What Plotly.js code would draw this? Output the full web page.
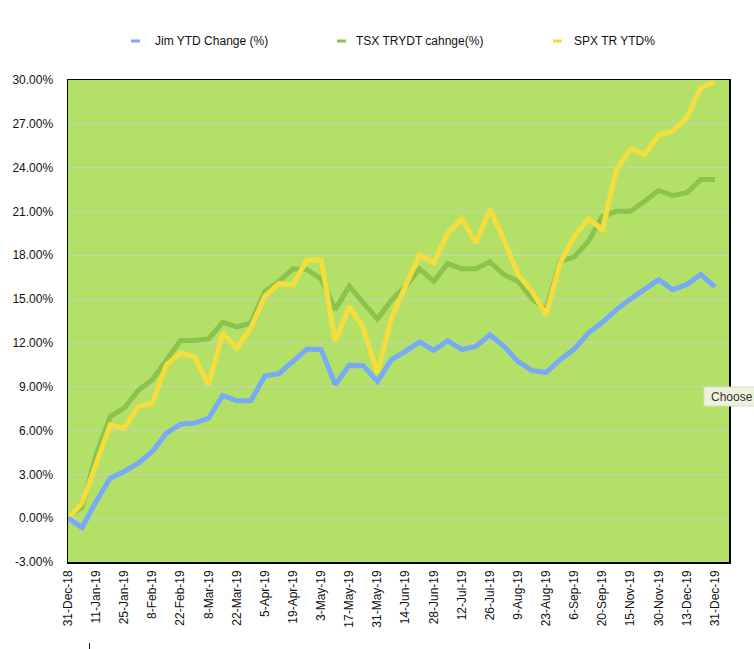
<!DOCTYPE html>
<html>
<head>
<meta charset="utf-8">
<script src="https://cdn.plot.ly/plotly-3.0.1.min.js"></script>
<style>
html,body{margin:0;padding:0;background:#fff;}
#chart{width:754px;height:649px;}
</style>
</head>
<body>
<div id="chart"></div>
<script>
// Categories (weekly-ish observation dates); every other one is labelled
const dates = [
  "31-Dec-18","4-Jan-19","11-Jan-19","18-Jan-19","25-Jan-19","1-Feb-19","8-Feb-19","15-Feb-19",
  "22-Feb-19","1-Mar-19","8-Mar-19","15-Mar-19","22-Mar-19","29-Mar-19","5-Apr-19","12-Apr-19",
  "19-Apr-19","26-Apr-19","3-May-19","10-May-19","17-May-19","24-May-19","31-May-19","7-Jun-19",
  "14-Jun-19","21-Jun-19","28-Jun-19","5-Jul-19","12-Jul-19","19-Jul-19","26-Jul-19","2-Aug-19",
  "9-Aug-19","16-Aug-19","23-Aug-19","30-Aug-19","6-Sep-19","13-Sep-19","20-Sep-19","1-Nov-19",
  "15-Nov-19","22-Nov-19","30-Nov-19","6-Dec-19","13-Dec-19","20-Dec-19","31-Dec-19"
];
const tickLabels = [
  "31-Dec-18","11-Jan-19","25-Jan-19","8-Feb-19","22-Feb-19","8-Mar-19","22-Mar-19","5-Apr-19",
  "19-Apr-19","3-May-19","17-May-19","31-May-19","14-Jun-19","28-Jun-19","12-Jul-19","26-Jul-19",
  "9-Aug-19","23-Aug-19","6-Sep-19","20-Sep-19","15-Nov-19","30-Nov-19","13-Dec-19","31-Dec-19"
];
const jimYTD = [
  0, -0.64, 1.14, 2.74, 3.2, 3.77, 4.57, 5.83, 6.44, 6.51, 6.85, 8.4, 8.04, 8.04, 9.75, 9.89,
  10.73, 11.58, 11.54, 9.14, 10.46, 10.44, 9.36, 10.85, 11.42, 12.06, 11.49, 12.15, 11.54, 11.76, 12.56, 11.76,
  10.73, 10.1, 9.98, 10.85, 11.58, 12.68, 13.41, 14.28, 15.0, 15.7, 16.33, 15.65, 15.99, 16.68, 15.83
];
const tsxYTD = [
  0.1, 0.75, 4.34, 6.96, 7.54, 8.75, 9.48, 10.85, 12.17, 12.17, 12.27, 13.41, 13.09, 13.36, 15.53, 16.22,
  17.07, 17.02, 16.38, 14.28, 15.88, 14.74, 13.64, 14.92, 15.88, 17.07, 16.22, 17.43, 17.07, 17.07, 17.55, 16.68,
  16.22, 15.01, 14.28, 17.59, 17.89, 18.96, 20.67, 21.01, 21.01, 21.7, 22.43, 22.09, 22.28, 23.19, 23.19
];
const spxYTD = [
  0, 1.03, 3.7, 6.39, 6.17, 7.65, 7.88, 10.51, 11.31, 11.03, 9.14, 12.68, 11.65, 13.02, 15.19, 16.06,
  15.99, 17.7, 17.7, 12.1, 14.5, 13.02, 9.94, 13.71, 15.9, 18.05, 17.48, 19.53, 20.49, 18.85, 21.13, 19.07,
  16.68, 15.53, 13.93, 17.48, 19.3, 20.49, 19.76, 23.87, 25.29, 24.9, 26.2, 26.5, 27.41, 29.47, 29.86
];
const seriesNames = ["Jim YTD Change (%)", "TSX TRYDT cahnge(%)", "SPX TR YTD%"];
const yTicks = [-3, 0, 3, 6, 9, 12, 15, 18, 21, 24, 27, 30];

const colors = ["#78aaf5", "#8bc34c", "#f5dd3e"];
const seriesData = [jimYTD, tsxYTD, spxYTD];

const traces = seriesData.map((ys, k) => ({
  type: "scatter",
  mode: "lines",
  x: dates,
  y: ys,
  name: seriesNames[k],
  line: {color: colors[k], width: 5, shape: "linear"},
  showlegend: false,
  hoverinfo: "x+y+name"
}));
const ordered = [traces[1], traces[2], traces[0]];

const font = {family: "Liberation Sans, Arial, Helvetica, sans-serif", size: 12, color: "#111"};

// plot-area pixel helpers for decorations (paper coords)
const L = 68, T = 80, W = 661, H = 482;
const px = v => (v - L) / W;
const py = v => (T + H - v) / H;

// custom legend (short line swatches)
const swatchX = [131, 337, 553];
const textX = [153, 354, 572];
const shapes = [];
const annotations = [];
seriesNames.forEach((n, k) => {
  shapes.push({type: "line", xref: "paper", yref: "paper",
    x0: px(swatchX[k]), x1: px(swatchX[k] + 9),
    y0: py(41), y1: py(41),
    line: {color: colors[k], width: 3}});
  annotations.push({xref: "paper", yref: "paper",
    x: px(textX[k]), y: py(41),
    xanchor: "left", yanchor: "middle", showarrow: false,
    text: n, font: font});
});
// tooltip-like box at right edge
shapes.push({type: "rect", xref: "paper", yref: "paper",
  x0: px(704), x1: px(760), y0: py(406), y1: py(387),
  fillcolor: "#eef1dc", line: {color: "#d8dcc8", width: 1}, layer: "above"});
annotations.push({xref: "paper", yref: "paper",
  x: px(709), y: py(396.5),
  xanchor: "left", yanchor: "middle", showarrow: false,
  text: "Choose", font: {family: font.family, size: 12, color: "#333"}});
// small cursor tick below axis
shapes.push({type: "line", xref: "paper", yref: "paper",
  x0: px(89.5), x1: px(89.5), y0: py(643), y1: py(649),
  line: {color: "#111", width: 1}});

const layout = {
  width: 754, height: 649,
  margin: {l: L, r: 754 - L - W, t: T, b: 649 - T - H, pad: 0},
  paper_bgcolor: "#ffffff",
  plot_bgcolor: "#b3e067",
  font: font,
  showlegend: false,
  xaxis: {
    type: "category",
    range: [0, 47],
    tickmode: "array",
    tickvals: tickLabels,
    ticktext: tickLabels,
    tickangle: -90,
    showgrid: false,
    zeroline: false,
    showline: true, mirror: true, linecolor: "#000", linewidth: 1.5,
    ticks: "outside", ticklen: 2, tickcolor: "rgba(0,0,0,0)",
    tickfont: font
  },
  yaxis: {
    range: [-3, 30],
    tickmode: "array",
    tickvals: yTicks,
    ticktext: yTicks.map(v => v.toFixed(2) + "%"),
    showgrid: true, gridcolor: "rgba(205,205,205,0.85)", gridwidth: 1,
    zeroline: false,
    showline: true, mirror: true, linecolor: "#000", linewidth: 1.5,
    ticks: "outside", ticklen: 11, tickcolor: "rgba(0,0,0,0)",
    tickfont: font
  },
  shapes: shapes,
  annotations: annotations
};

Plotly.newPlot("chart", ordered, layout, {displayModeBar: false, staticPlot: true});
</script>
</body>
</html>
